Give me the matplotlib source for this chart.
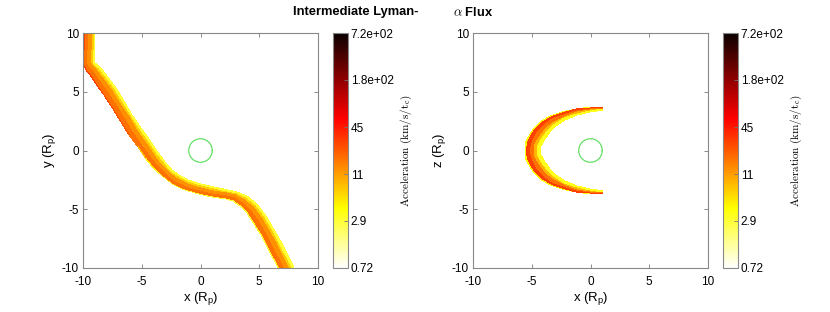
import numpy as np
import matplotlib
matplotlib.use('Agg')
import matplotlib.pyplot as plt
from matplotlib.colors import LogNorm
from matplotlib.cm import ScalarMappable

plt.rcParams['font.family'] = ['Liberation Sans', 'DejaVu Sans']
plt.rcParams['mathtext.fontset'] = 'custom'
plt.rcParams['mathtext.rm'] = 'Liberation Sans'
plt.rcParams['mathtext.it'] = 'Liberation Sans:italic'
plt.rcParams['mathtext.bf'] = 'Liberation Sans:bold'
plt.rcParams['axes.unicode_minus'] = False

# x-y plane: centre line of the shocked tail, half width, value at lower-left edge
xy_x = [-9.46, -9.46, -9.55, -9.35, -8.98, -8.41, -7.70, -6.99, -6.28, -5.57, -4.87, -4.16,
        -3.45, -2.74, -2.03, -1.18, -0.04, 1.09, 2.23, 2.94, 3.65, 4.36, 5.06, 5.63, 6.20,
        6.77, 7.45]
xy_y = [10.3, 8.55, 7.56, 7.14, 6.79, 6.00, 5.01, 3.87, 2.74, 1.60, 0.61, -0.38,
        -1.29, -2.00, -2.51, -2.94, -3.30, -3.53, -3.73, -3.93, -4.30, -4.92, -5.91, -6.91,
        -7.90, -9.03, -10.3]
xy_half = [0.50, 0.50, 0.50, 0.50, 0.52, 0.55, 0.58, 0.58, 0.58, 0.58, 0.58, 0.56,
           0.52, 0.48, 0.45, 0.43, 0.42, 0.40, 0.40, 0.42, 0.48, 0.55, 0.58, 0.60, 0.62,
           0.62, 0.62]
xy_edge = [30, 30, 30, 30, 30, 30, 28, 26, 24, 18, 8, 4,
           3, 3, 3, 3, 3, 3, 3, 3, 3, 3, 3, 3, 3, 3]
xy_strips = [None, 18, 13, 7, 3]          # lower-left -> upper-right, first from xy_edge
xy_offsets = [-1.0, -0.8, -0.15, 0.5, 0.8, 1.0]

# x-z plane: bow shaped arc
xz_x = [1.09, -0.04, -1.18, -2.31, -3.16, -3.87, -4.44, -4.81, -4.92,
        -4.81, -4.44, -3.87, -3.16, -2.31, -1.18, -0.04, 1.09]
xz_z = [3.59, 3.50, 3.30, 2.94, 2.54, 2.03, 1.32, 0.61, 0.0,
        -0.61, -1.32, -2.03, -2.54, -2.94, -3.30, -3.50, -3.59]
xz_half = [0.12, 0.20, 0.28, 0.38, 0.50, 0.60, 0.65, 0.68, 0.68,
           0.68, 0.65, 0.60, 0.50, 0.38, 0.28, 0.20, 0.12]
xz_strips = [4, 30, 18, 9, 3.5]         # outer -> inner
xz_offsets = [-1.0, -0.8, -0.3, 0.2, 0.6, 1.0]

cbar_ticks = [0.72, 2.87, 11.4, 45.4, 181, 720]
cbar_labels = ['0.72', '2.9', '11', '45', '1.8e+02', '7.2e+02']
vmin, vmax = 0.72, 720

norm = LogNorm(vmin=vmin, vmax=vmax)
cmap = 'hot_r'


def band_mesh(cx, cy, half, offsets):
    cx, cy, half = np.asarray(cx), np.asarray(cy), np.asarray(half)
    tx, ty = np.gradient(cx), np.gradient(cy)
    nrm = np.hypot(tx, ty)
    nx, ny = -ty / nrm, tx / nrm
    off = np.asarray(offsets)
    X = cx[:, None] + nx[:, None] * half[:, None] * off[None, :]
    Y = cy[:, None] + ny[:, None] * half[:, None] * off[None, :]
    return X, Y


fig = plt.figure(figsize=(8.3, 3.12), dpi=100)
W, H = 830, 312


def axes_px(l, t, w, h):
    return fig.add_axes([l / W, 1 - (t + h) / H, w / W, h / H])


ax1 = axes_px(83, 33, 235, 235)
cax1 = axes_px(333, 33, 15, 235)
ax2 = axes_px(473, 33, 235, 235)
cax2 = axes_px(723, 33, 15, 235)

# left panel
X, Y = band_mesh(xy_x, xy_y, xy_half, xy_offsets)
C = np.array([[xy_edge[i]] + xy_strips[1:] for i in range(len(xy_x) - 1)], dtype=float)
ax1.pcolormesh(X, Y, C, cmap=cmap, norm=norm, shading='flat')

# right panel
X, Y = band_mesh(xz_x, xz_z, xz_half, xz_offsets)
C = np.array([xz_strips for i in range(len(xz_x) - 1)], dtype=float)
ax2.pcolormesh(X, Y, C, cmap=cmap, norm=norm, shading='flat')

for ax, yl in [(ax1, 'y (R$_\\mathrm{p}$)'), (ax2, 'z (R$_\\mathrm{p}$)')]:
    th = np.linspace(0, 2 * np.pi, 200)
    ax.plot(np.cos(th), np.sin(th), color='#55dd55', lw=0.8)
    ax.set_xlim(-10, 10)
    ax.set_ylim(-10, 10)
    ax.set_xticks([-10, -5, 0, 5, 10])
    ax.set_yticks([-10, -5, 0, 5, 10])
    ax.tick_params(direction='in', length=3, width=0.6, color='#777777',
                   top=True, right=True, labelsize=8.5, pad=3)
    ax.tick_params(axis='x', pad=6)
    for s in ax.spines.values():
        s.set_color('#888888')
        s.set_linewidth(0.8)
    ax.set_xlabel('x (R$_\\mathrm{p}$)', fontsize=9.5, labelpad=1)
    ax.set_ylabel(yl, fontsize=9.5, labelpad=3)

for cax in [cax1, cax2]:
    cb = fig.colorbar(ScalarMappable(norm=norm, cmap=cmap), cax=cax)
    cb.set_ticks(cbar_ticks)
    cb.set_ticklabels(cbar_labels)
    cb.ax.minorticks_off()
    cb.ax.tick_params(direction='in', length=3, width=0.6, color='#777777',
                      labelsize=8.5, pad=2)
    cb.outline.set_edgecolor('#888888')
    cb.outline.set_linewidth(0.8)
    cb.set_label(r'$\mathrm{Acceleration\ (km/s/t_c)}$', fontsize=8,
                 labelpad=4, math_fontfamily='cm')

fig.text(418 / W, 1 - 12 / H, 'Intermediate Lyman-', ha='right', va='center',
         fontsize=9.3, fontweight='bold')
fig.text(453 / W, 1 - 12 / H, r'$\alpha$ Flux', ha='left', va='center',
         fontsize=9.3, fontweight='bold', math_fontfamily='cm')

fig.savefig('out.png', dpi=100)
